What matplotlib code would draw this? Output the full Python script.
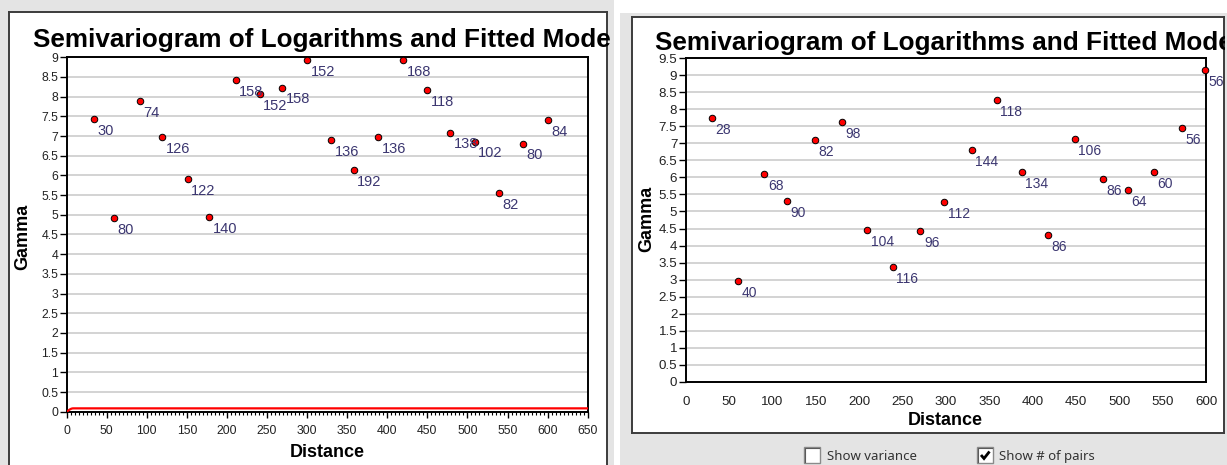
import matplotlib
matplotlib.use("Agg")
import matplotlib.pyplot as plt
import numpy as np
from matplotlib.patches import Rectangle
from matplotlib.lines import Line2D
from matplotlib.transforms import Bbox, TransformedBbox

# ---------------------------------------------------------------- data
# Left panel: empirical semivariogram of log values (+ number of pairs)
left_distance = [34.4, 59.4, 91.1, 119.3, 150.9, 177.5, 210.8, 240.8, 268.6, 299.8,
                 329.8, 358.0, 388.4, 420.0, 449.5, 478.2, 509.0, 539.7, 569.3, 600.9]
left_gamma = [7.43, 4.91, 7.89, 6.97, 5.90, 4.94, 8.42, 8.07, 8.23, 8.93,
              6.90, 6.13, 6.97, 8.92, 8.16, 7.09, 6.86, 5.56, 6.81, 7.40]
left_pairs = [30, 80, 74, 126, 122, 140, 158, 152, 158, 152,
              136, 192, 136, 168, 118, 138, 102, 82, 80, 84]

# Fitted spherical model for the left panel
model_nugget = 0.0
model_sill = 0.085
model_range = 8.0

# Right panel: empirical semivariogram (+ number of pairs)
right_distance = [30.3, 60.3, 90.6, 116.8, 149.1, 180.2, 209.1, 238.7, 270.5, 297.8,
                  329.8, 358.6, 387.4, 417.8, 448.1, 480.4, 509.2, 540.0, 571.5, 598.8]
right_gamma = [7.74, 2.96, 6.11, 5.31, 7.09, 7.62, 4.46, 3.37, 4.43, 5.27,
               6.81, 8.27, 6.16, 4.30, 7.13, 5.95, 5.63, 6.16, 7.45, 9.16]
right_pairs = [28, 40, 68, 90, 82, 98, 104, 116, 96, 112,
               144, 118, 134, 86, 106, 86, 64, 60, 56, 56]

left_x_ticks = [0, 50, 100, 150, 200, 250, 300, 350, 400, 450, 500, 550, 600, 650]
left_x_labels = ["0", "50", "100", "150", "200", "250", "300", "350", "400",
                 "450", "500", "550", "600", "650"]
left_y_ticks = [0, 0.5, 1, 1.5, 2, 2.5, 3, 3.5, 4, 4.5, 5, 5.5, 6, 6.5, 7, 7.5, 8, 8.5, 9]
left_y_labels = ["0", "0.5", "1", "1.5", "2", "2.5", "3", "3.5", "4", "4.5", "5",
                 "5.5", "6", "6.5", "7", "7.5", "8", "8.5", "9"]
right_x_ticks = [0, 50, 100, 150, 200, 250, 300, 350, 400, 450, 500, 550, 600]
right_x_labels = ["0", "50", "100", "150", "200", "250", "300", "350", "400",
                  "450", "500", "550", "600"]
right_y_ticks = [0, 0.5, 1, 1.5, 2, 2.5, 3, 3.5, 4, 4.5, 5, 5.5, 6, 6.5, 7, 7.5,
                 8, 8.5, 9, 9.5]
right_y_labels = ["0", "0.5", "1", "1.5", "2", "2.5", "3", "3.5", "4", "4.5", "5",
                  "5.5", "6", "6.5", "7", "7.5", "8", "8.5", "9", "9.5"]

title_text = "Semivariogram of Logarithms and Fitted Model"

# ---------------------------------------------------------------- layout helpers
W, H = 1227, 465
NARROW = ["Liberation Sans Narrow", "Liberation Sans", "DejaVu Sans"]
REGULAR = ["Liberation Sans", "DejaVu Sans"]
UI = ["Noto Sans", "DejaVu Sans"]
WINDOW_GREY = "#e4e4e4"
FRAME = "#3c3c3c"
LABEL_COLOR = "#3b3670"

fig = plt.figure(figsize=(W / 100, H / 100), dpi=100)
fig.patch.set_facecolor("white")


def prect(x0, y0, x1, y1):
    return [x0 / W, 1 - y1 / H, (x1 - x0) / W, (y1 - y0) / H]


def ftext(x, y, s, **kw):
    return fig.text(x / W, 1 - y / H, s, **kw)


def frect(x0, y0, x1, y1, **kw):
    r = Rectangle((x0 / W, 1 - y1 / H), (x1 - x0) / W, (y1 - y0) / H,
                  transform=fig.transFigure, **kw)
    fig.add_artist(r)
    return r


# window backgrounds
frect(0, 0, 614, H, facecolor=WINDOW_GREY, edgecolor="none", zorder=-20)
frect(620, 13, W, H, facecolor=WINDOW_GREY, edgecolor="none", zorder=-20)


def panel(x0, y0, x1, y1, bottom=True):
    p = fig.add_axes(prect(x0, y0, x1, y1), zorder=-5)
    p.set_facecolor("white")
    p.set_xticks([])
    p.set_yticks([])
    for side, sp in p.spines.items():
        sp.set_color(FRAME)
        sp.set_linewidth(1.4)
    if not bottom:
        p.spines["bottom"].set_visible(False)
    return p


pan_left = panel(9, 12, 607, H + 5, bottom=False)
pan_right = panel(632, 17, 1224, 433)


def clipped_title(x, y, clip):
    t = ftext(x, y, title_text, fontsize=18.8, fontweight="bold", family=NARROW,
              color="black", va="baseline", ha="left")
    bb = Bbox.from_extents(clip[0] / W, 1 - clip[3] / H, clip[2] / W, 1 - clip[1] / H)
    t.set_clip_box(TransformedBbox(bb, fig.transFigure))
    t.set_clip_on(True)
    return t


clipped_title(33, 46.7, (9, 12, 612, H))
clipped_title(655, 50, (632, 17, 1225, 433))


def style_axes(ax, xt, xl, yt, yl, xlim, ylim, xtick_len, xpad, tick_fs):
    ax.set_xlim(*xlim)
    ax.set_ylim(*ylim)
    ax.set_xticks(xt)
    ax.set_xticklabels(xl, family=REGULAR, fontsize=tick_fs, color="#222222")
    ax.set_yticks(yt)
    ax.set_yticklabels(yl, family=REGULAR, fontsize=tick_fs, color="#222222")
    ax.tick_params(axis="y", direction="out", length=5, width=1, pad=1)
    ax.tick_params(axis="x", direction="out", length=xtick_len, width=1, pad=xpad)
    ax.grid(axis="y", color="#c8c8c8", linewidth=1.1)
    ax.grid(axis="x", visible=False)
    ax.set_axisbelow(True)
    for sp in ax.spines.values():
        sp.set_color("black")
        sp.set_linewidth(1.4)


def draw_points(ax, xs, ys, ns, fs):
    ax.scatter(xs, ys, s=22, facecolor="#ff0000", edgecolor="black",
               linewidth=0.7, zorder=4, clip_on=False)
    for x, y, n in zip(xs, ys, ns):
        ax.annotate(str(n), (x, y), xytext=(2.5, -3.5), textcoords="offset points",
                    ha="left", va="top", fontsize=fs, family=NARROW,
                    color=LABEL_COLOR, zorder=5)


# ---------------------------------------------------------------- left chart
ax1 = fig.add_axes(prect(66.7, 57.3, 587.7, 411.7))
style_axes(ax1, left_x_ticks, left_x_labels, left_y_ticks, left_y_labels,
           (0, 650), (0, 9), 4.3, 5.5, 8.8)
ax1.set_xticks(np.arange(0, 651, 5), minor=True)
ax1.tick_params(axis="x", which="minor", direction="out", length=2.3, width=0.8)

h = np.linspace(0, 650, 1301)
hr = np.minimum(h / model_range, 1.0)
model = model_nugget + model_sill * (1.5 * hr - 0.5 * hr ** 3)
ax1.plot(h, model, color="#ff0000", linewidth=1.6, zorder=3)
draw_points(ax1, left_distance, left_gamma, left_pairs, 10.5)

ftext(23, 237, "Gamma", rotation=90, fontsize=13, fontweight="bold", family=NARROW,
      ha="center", va="center")
ftext(327, 452, "Distance", fontsize=13, fontweight="bold", family=NARROW,
      ha="center", va="center")

# ---------------------------------------------------------------- right chart
ax2 = fig.add_axes(prect(685.7, 58.3, 1206.3, 381.7))
style_axes(ax2, right_x_ticks, right_x_labels, right_y_ticks, right_y_labels,
           (0, 600), (0, 9.5), 0, 10, 9.6)
draw_points(ax2, right_distance, right_gamma, right_pairs, 10)

ftext(647, 219, "Gamma", rotation=90, fontsize=13, fontweight="bold", family=NARROW,
      ha="center", va="center")
ftext(945, 420, "Distance", fontsize=13, fontweight="bold", family=NARROW,
      ha="center", va="center")

# ---------------------------------------------------------------- option checkboxes


def checkbox(x0, y0, checked):
    frect(x0, y0, x0 + 16, y0 + 16, facecolor="white", edgecolor="#8a8a8a",
          linewidth=1.0, zorder=2)
    fig.add_artist(Line2D([(x0 + 1) / W, (x0 + 1) / W, (x0 + 15) / W],
                          [1 - (y0 + 15) / H, 1 - (y0 + 1) / H, 1 - (y0 + 1) / H],
                          transform=fig.transFigure, color="#5a5a5a", linewidth=0.8,
                          zorder=3))
    if checked:
        fig.add_artist(Line2D([(x0 + 4) / W, (x0 + 7) / W, (x0 + 12.5) / W],
                              [1 - (y0 + 8) / H, 1 - (y0 + 11.5) / H, 1 - (y0 + 4.5) / H],
                              transform=fig.transFigure, color="black", linewidth=2.0,
                              solid_capstyle="butt", solid_joinstyle="miter", zorder=4))


checkbox(804, 447, False)
ftext(827, 456, "Show variance", fontsize=9.5, family=UI, color="#333333",
      ha="left", va="center")
checkbox(977, 447, True)
ftext(999, 456, "Show # of pairs", fontsize=9.5, family=UI, color="#333333",
      ha="left", va="center")

fig.savefig("out.png", dpi=100)
